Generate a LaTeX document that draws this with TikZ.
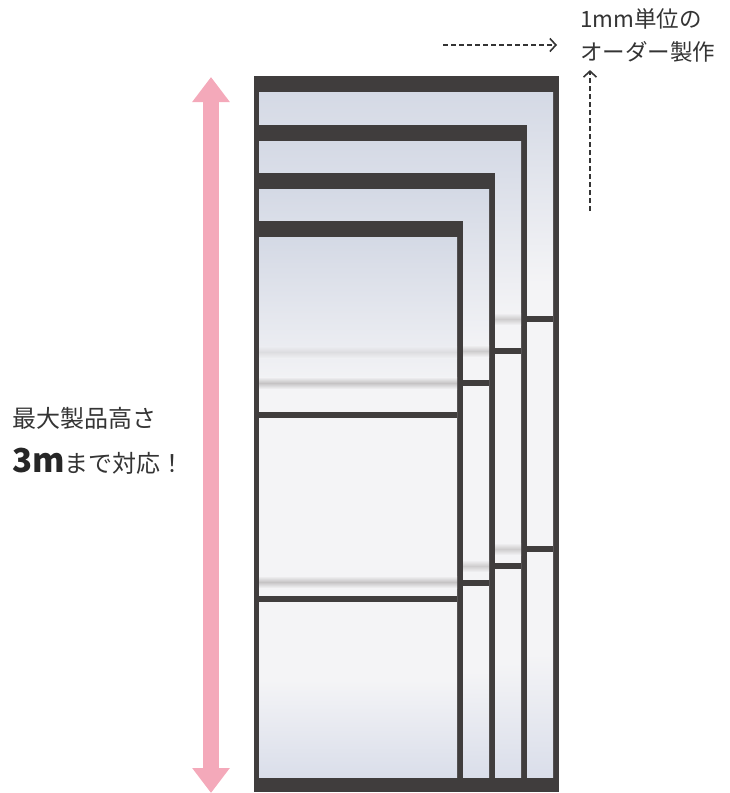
\documentclass[tikz,border=0pt]{standalone}
\usepackage{fontspec}
\setmainfont{Noto Sans CJK JP}
\usetikzlibrary{arrows.meta,positioning}

\definecolor{frameColour}{RGB}{64, 61, 61}
\definecolor{glassTop}{RGB}{212, 217, 229}
\definecolor{glassBlue}{RGB}{218, 222, 234}
\definecolor{glassWhite}{RGB}{244, 244, 246}
\definecolor{bandGray}{RGB}{160, 156, 156}
\definecolor{arrowPink}{RGB}{244, 169, 186}
\definecolor{textColour}{RGB}{52, 52, 52}
\pgfdeclareverticalshading{glass}{100bp}{color(0bp)=(glassBlue); color(25bp)=(glassBlue); color(34bp)=(glassWhite); color(61bp)=(glassWhite); color(75bp)=(glassTop); color(100bp)=(glassTop)}

\begin{document}
\begin{tikzpicture}[x=1pt, y=-1pt]
	\tikzstyle{frame}=[fill=frameColour]
	\tikzstyle{pane}=[shading=glass]
	\tikzstyle{band}=[top color=glassWhite, bottom color=glassWhite, middle color=bandGray]
	\tikzstyle{caption}=[inner sep=0pt, anchor=base west, text=textColour, font=\fontsize{22.5}{24}\selectfont]
	\tikzstyle{dasharrow}=[textColour, line width=1.6pt, dash pattern=on 5pt off 3pt, -{Straight Barb[length=6pt, width=13pt]}]
	\useasboundingbox (0,0) rectangle (729,793);

	% doors, back to front
	\foreach \t/\r/\bands in {76/559/{300/0}, 125/527/{319/0.45,549/0.45}, 173/495/{351/0.45,566/0.45}, 221/463/{383/0.55,582/0.55,352/0.2}} {
		\fill[frame] (254,\t) rectangle (\r,792);
		\shade[pane] (259,\t+16) rectangle (\r-6,777);
		\foreach \b/\o in \bands
			\shade[band, opacity=\o] (259,\b-6) rectangle (\r-6,\b+6);
		\pgfmathsetmacro\barA{\t+0.335*(792-\t)}
		\pgfmathsetmacro\barB{\t+0.657*(792-\t)}
		\fill[frame] (259,\barA) rectangle (\r-6,\barA+6);
		\fill[frame] (259,\barB) rectangle (\r-6,\barB+6);
	}

	% height arrow
	\coordinate (arrowTop) at (211,77);
	\coordinate (arrowBottom) at (211,793);
	\draw[arrowPink, line width=16pt, {Triangle[length=25pt, width=36pt]}-{Triangle[length=25pt, width=36pt]}] (arrowTop) -- (arrowBottom);

	\node[caption, font=\fontsize{24}{26}\selectfont] (heightA) at (12,427) {最大製品高さ};
	\node[caption, font=\fontsize{24}{26}\selectfont] (heightB) at (12,472) {{\fontsize{33}{34}\selectfont\bfseries\color{black!85}3m}まで対応！};

	\node[caption] (orderA) at (580,27) {1mm単位の};
	\node[caption] (orderB) at (580,60) {オーダー製作};

	\coordinate (hfree) at (443,45);
	\coordinate (vfree) at (590,211);
	\draw[dasharrow, shorten >=23pt] (hfree) -- (hfree -| orderB.west);
	\draw[dasharrow, shorten >=8pt] (vfree) -- (vfree |- orderB.south);
\end{tikzpicture}
\end{document}
